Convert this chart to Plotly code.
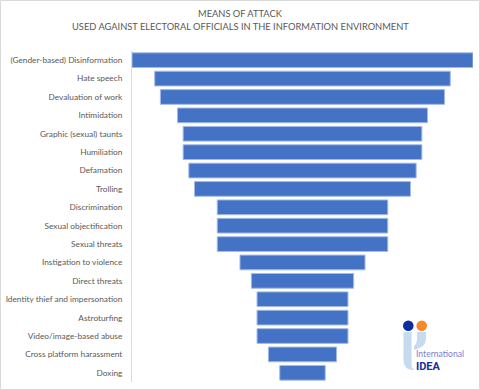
import plotly.graph_objects as go

categories = [
    "(Gender-based) Disinformation", "Hate speech", "Devaluation of work",
    "Intimidation", "Graphic (sexual) taunts", "Humiliation", "Defamation",
    "Trolling", "Discrimination", "Sexual objectification", "Sexual threats",
    "Instigation to violence", "Direct threats", "Identity thief and impersonation",
    "Astroturfing", "Video/image-based abuse", "Cross platform harassment", "Doxing",
]
values = [30, 26, 25, 22, 21, 21, 20, 19, 15, 15, 15, 11, 9, 8, 8, 8, 6, 4]
title_lines = ["MEANS OF ATTACK", "USED AGAINST ELECTORAL OFFICIALS IN THE INFORMATION ENVIRONMENT"]

W, H = 480, 390
ML, MR, MT, MB = 132, 7, 51, 8
PW, PH = W - ML - MR, H - MT - MB
FONT = "Lato"

def px(x):
    return (x - ML) / PW

def py(y):
    return (H - MB - y) / PH

fig = go.Figure(go.Funnel(
    y=categories, x=values,
    textinfo="none",
    connector={"visible": False},
    marker=dict(color="#4472C4", line=dict(color="#a3bbe6", width=1)),
    hoverinfo="y+x",
))

shapes = [
    # outer chart border
    dict(type="rect", xref="paper", yref="paper", x0=px(0.5), x1=px(479.5), y0=py(0.5), y1=py(389.5),
         line=dict(color="#d9d9d9", width=1), layer="below"),
    # logo light-blue pieces
    dict(type="path", xref="paper", yref="paper",
         path=f"M {px(403.5)},{py(332)} L {px(411.5)},{py(332)} L {px(411.5)},{py(364)} "
              f"Q {px(411.5)},{py(369)} {px(414)},{py(369)} L {px(414)},{py(370)} "
              f"Q {px(403.5)},{py(370)} {px(403.5)},{py(360)} Z",
         fillcolor="#c6daf0", line=dict(width=0)),
    dict(type="path", xref="paper", yref="paper",
         path=f"M {px(417)},{py(332)} L {px(426)},{py(332)} L {px(426)},{py(339)} "
              f"Q {px(426)},{py(347)} {px(414)},{py(350)} L {px(414)},{py(346)} "
              f"Q {px(417)},{py(344)} {px(417)},{py(338)} Z",
         fillcolor="#c6daf0", line=dict(width=0)),
    dict(type="circle", xref="paper", yref="paper", x0=px(403), x1=px(413.6), y0=py(320.5), y1=py(331),
         fillcolor="#0b2fa0", line=dict(width=0)),
    dict(type="circle", xref="paper", yref="paper", x0=px(416.4), x1=px(427), y0=py(320.5), y1=py(331),
         fillcolor="#f7892b", line=dict(width=0)),
]

annotations = [
    dict(text=title_lines[0], x=px(240), y=py(13), xref="paper", yref="paper", showarrow=False,
         font=dict(size=9.3, color="#595959", family=FONT), xanchor="center", yanchor="middle"),
    dict(text=title_lines[1], x=px(240), y=py(27), xref="paper", yref="paper", showarrow=False,
         font=dict(size=9.3, color="#595959", family=FONT), xanchor="center", yanchor="middle"),
    dict(text="International", x=px(414), y=py(354), xref="paper", yref="paper", showarrow=False,
         font=dict(size=8.6, color="#7b7fd0", family=FONT), xanchor="left", yanchor="middle"),
    dict(text="<b>IDEA</b>", x=px(414), y=py(366), xref="paper", yref="paper", showarrow=False,
         font=dict(size=11, color="#1a2fa0", family="Roboto"), xanchor="left", yanchor="middle"),
]

fig.update_layout(
    width=W, height=H,
    margin=dict(l=ML, r=MR, t=MT, b=MB, autoexpand=False),
    paper_bgcolor="white", plot_bgcolor="white",
    showlegend=False,
    xaxis=dict(visible=False, range=[-15, 15], fixedrange=True, automargin=False),
    yaxis=dict(range=[17.5, -0.5], showline=True, linecolor="#d9d9d9", linewidth=1,
               ticks="", showgrid=False, ticklabelstandoff=7, automargin=False,
               tickfont=dict(size=8.3, color="#595959", family=FONT)),
    bargap=0.09,
    shapes=shapes,
    annotations=annotations,
    font=dict(family=FONT),
)

fig.write_html("out.html", config={"displayModeBar": False},
               post_script="document.body.style.margin='0';")
